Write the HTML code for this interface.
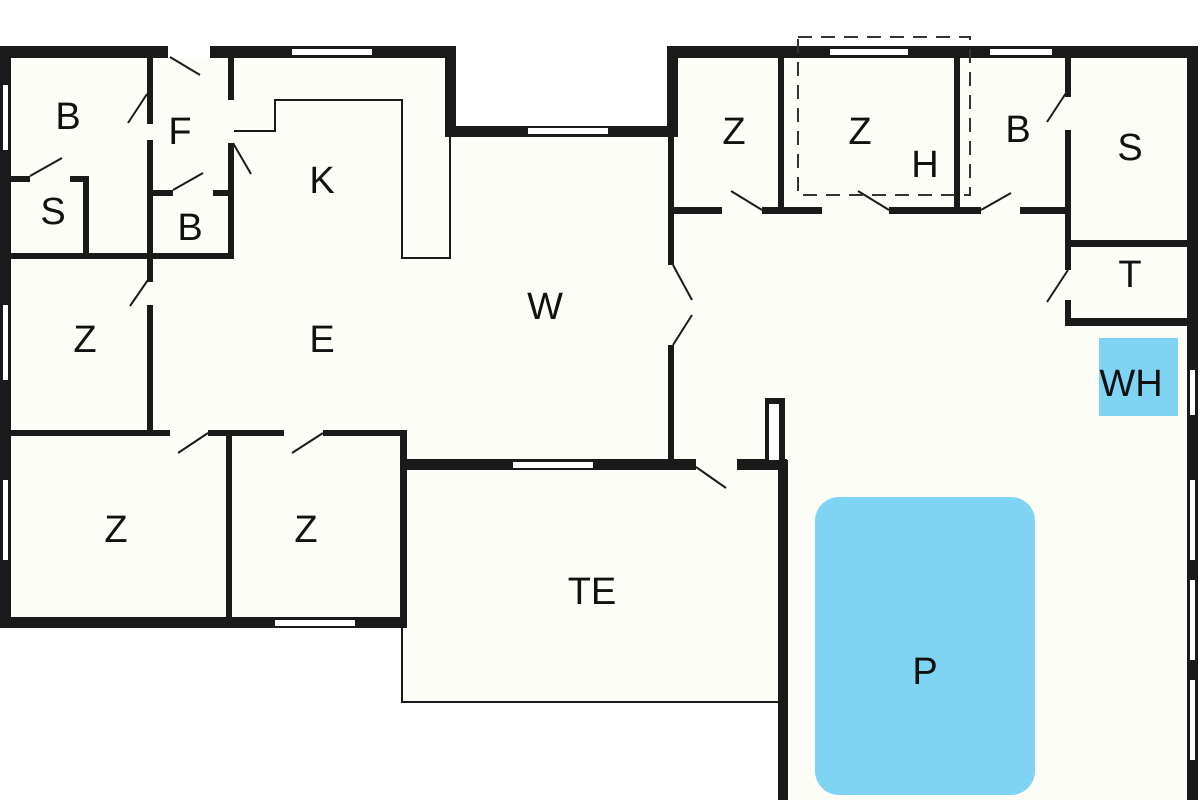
<!DOCTYPE html>
<html><head><meta charset="utf-8"><style>
html,body{margin:0;padding:0;background:#fff}
svg{display:block}
text{font-family:"Liberation Sans",sans-serif;font-size:38px;fill:#111;text-anchor:middle;dominant-baseline:central}
</style></head><body>
<svg width="1200" height="800" viewBox="0 0 1200 800">
<g fill="#fdfdf8">
<rect x="5" y="52" width="447" height="572"/>
<rect x="450" y="132" width="225" height="335"/>
<rect x="402" y="465" width="380" height="237"/>
<rect x="672" y="52" width="522" height="415"/>
<rect x="783" y="460" width="411" height="340"/>
</g>
<g fill="#1a1a1a">
<rect x="0" y="46" width="168" height="12"/>
<rect x="210" y="46" width="246" height="12"/>
<rect x="445" y="46" width="11" height="91"/>
<rect x="445" y="126" width="233" height="11"/>
<rect x="667" y="46" width="531" height="12"/>
<rect x="667" y="46" width="11" height="91"/>
<rect x="0" y="46" width="11" height="582"/>
<rect x="0" y="617" width="407" height="11"/>
<rect x="1187" y="46" width="11" height="754"/>
<rect x="400" y="459" width="296" height="11"/>
<rect x="737" y="459" width="50" height="11"/>
<rect x="400" y="430" width="7" height="198"/>
<rect x="778" y="460" width="10" height="340"/>
<rect x="765" y="398" width="20" height="70"/>
<rect x="668" y="100" width="6" height="165"/>
<rect x="668" y="345" width="6" height="120"/>
<rect x="147" y="52" width="6" height="72"/>
<rect x="147" y="140" width="6" height="142"/>
<rect x="147" y="305" width="6" height="131"/>
<rect x="228" y="52" width="6" height="48"/>
<rect x="228" y="143" width="6" height="115"/>
<rect x="10" y="253" width="224" height="6"/>
<rect x="10" y="176" width="20" height="6"/>
<rect x="70" y="176" width="18" height="6"/>
<rect x="83" y="176" width="6" height="80"/>
<rect x="150" y="190" width="23" height="6"/>
<rect x="213" y="190" width="20" height="6"/>
<rect x="10" y="430" width="160" height="6"/>
<rect x="208" y="430" width="76" height="6"/>
<rect x="323" y="430" width="84" height="6"/>
<rect x="226" y="433" width="6" height="187"/>
<rect x="672" y="207" width="50" height="7"/>
<rect x="762" y="207" width="60" height="7"/>
<rect x="889" y="207" width="92" height="7"/>
<rect x="1020" y="207" width="50" height="7"/>
<rect x="778" y="52" width="6" height="160"/>
<rect x="954" y="52" width="6" height="160"/>
<rect x="1065" y="52" width="6" height="45"/>
<rect x="1065" y="130" width="6" height="140"/>
<rect x="1065" y="300" width="6" height="26"/>
<rect x="1065" y="240" width="128" height="7"/>
<rect x="1065" y="318" width="128" height="8"/>
</g>
<g fill="#fff">
<rect x="292" y="49" width="80" height="6"/>
<rect x="528" y="128" width="80" height="6"/>
<rect x="830" y="49" width="78" height="6"/>
<rect x="990" y="49" width="62" height="6"/>
<rect x="275" y="620" width="80" height="6"/>
<rect x="513" y="462" width="80" height="6"/>
<rect x="3" y="85" width="5" height="65"/>
<rect x="3" y="305" width="5" height="75"/>
<rect x="3" y="480" width="5" height="80"/>
<rect x="1190" y="370" width="5" height="45"/>
<rect x="1190" y="480" width="5" height="80"/>
<rect x="1190" y="580" width="5" height="80"/>
<rect x="1190" y="680" width="5" height="80"/>
<rect x="769" y="404" width="10" height="56"/>
<rect x="168" y="46" width="42" height="12"/>
</g>
<g fill="none" stroke="#1a1a1a" stroke-width="2">
<polyline points="234,131 275,131 275,100 402,100 402,258 450,258 450,137"/>
<polyline points="402,628 402,702 780,702"/>
<line x1="170" y1="57" x2="200" y2="75"/>
<line x1="147" y1="94" x2="128" y2="123"/>
<line x1="30" y1="176" x2="62" y2="158"/>
<line x1="233" y1="143" x2="251" y2="174"/>
<line x1="173" y1="190" x2="203" y2="173"/>
<line x1="150" y1="277" x2="130" y2="306"/>
<line x1="208" y1="433" x2="178" y2="453"/>
<line x1="323" y1="433" x2="292" y2="453"/>
<line x1="696" y1="467" x2="726" y2="488"/>
<line x1="673" y1="265" x2="692" y2="300"/>
<line x1="673" y1="345" x2="692" y2="315"/>
<line x1="762" y1="210" x2="731" y2="191"/>
<line x1="889" y1="210" x2="858" y2="191"/>
<line x1="981" y1="210" x2="1011" y2="193"/>
<line x1="1068" y1="90" x2="1047" y2="122"/>
<line x1="1068" y1="270" x2="1047" y2="302"/>
</g>
<rect x="798" y="37" width="172" height="158" fill="none" stroke="#333" stroke-width="2" stroke-dasharray="14,9"/>
<rect x="1099" y="338" width="79" height="78" fill="#7fd4f4"/>
<rect x="815" y="497" width="220" height="298" rx="24" fill="#7fd4f4"/>
<text x="68" y="117">B</text>
<text x="180" y="132">F</text>
<text x="322" y="181">K</text>
<text x="53" y="212">S</text>
<text x="190" y="228">B</text>
<text x="85" y="340">Z</text>
<text x="322" y="340">E</text>
<text x="545" y="307">W</text>
<text x="116" y="530">Z</text>
<text x="306" y="530">Z</text>
<text x="592" y="592">TE</text>
<text x="734" y="132">Z</text>
<text x="860" y="132">Z</text>
<text x="925" y="165">H</text>
<text x="1018" y="130">B</text>
<text x="1130" y="148">S</text>
<text x="1130" y="275">T</text>
<text x="1131" y="384">WH</text>
<text x="925" y="672">P</text>
</svg>
</body></html>
